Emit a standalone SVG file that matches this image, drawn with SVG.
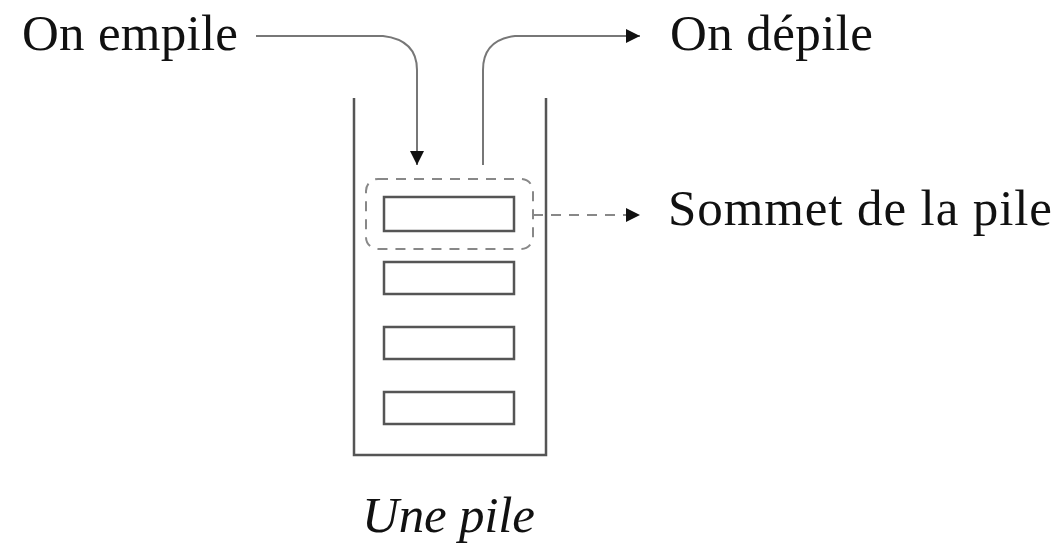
<svg xmlns="http://www.w3.org/2000/svg" width="1059" height="551" viewBox="0 0 1059 551">
<style>
.t{font-family:"Liberation Serif","Times New Roman",serif;font-size:51px;fill:#111}
.it{font-style:italic}
.wall{fill:none;stroke:#555;stroke-width:2.5}
.box{fill:#fff;stroke:#555;stroke-width:2.5}
.ln{fill:none;stroke:#777;stroke-width:2}
.dash{fill:none;stroke:#888;stroke-width:2;stroke-dasharray:10 8}
</style>
<defs>
<marker id="ah" viewBox="0 0 10 10" refX="10" refY="5" markerWidth="14" markerHeight="14" markerUnits="userSpaceOnUse" orient="auto">
<path d="M0,0 L10,5 L0,10 Z" fill="#111"/>
</marker>
</defs>
<rect width="1059" height="551" fill="#fff"/>
<g id="stack">
<path class="wall" d="M354,98 V455 H546 V98"/>
</g>
<g id="top-group">
<rect class="dash" x="366" y="179" width="167" height="70" rx="12"/>
</g>
<g id="item1"><rect class="box" x="384" y="197" width="130" height="34"/></g>
<g id="item2"><rect class="box" x="384" y="262" width="130" height="32"/></g>
<g id="item3"><rect class="box" x="384" y="327" width="130" height="32"/></g>
<g id="item4"><rect class="box" x="384" y="392" width="130" height="32"/></g>
<g id="connectors">
<path class="ln" d="M256,36 H383 Q417,40 417,70 V165" marker-end="url(#ah)"/>
<path class="ln" d="M483,165 V70 Q483,40 515,36 H640" marker-end="url(#ah)"/>
<path class="dash" d="M533,215 H640" marker-end="url(#ah)"/>
</g>
<g id="labels">
<text class="t" x="22" y="50" textLength="216">On empile</text>
<text class="t" x="670" y="50" textLength="203">On dépile</text>
<text class="t" x="668" y="225" textLength="384">Sommet de la pile</text>
<text class="t it" x="362" y="532" textLength="173">Une pile</text>
</g>
</svg>
